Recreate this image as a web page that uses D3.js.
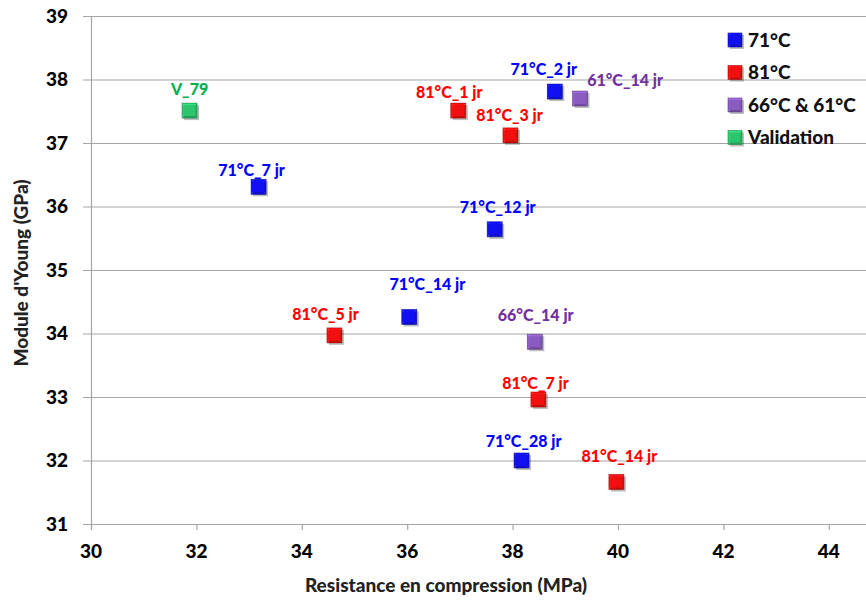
<!DOCTYPE html>
<html>
<head>
<meta charset="utf-8">
<script src="https://cdn.jsdelivr.net/npm/d3@7"></script>
<style>
  body { margin: 0; background: #fff; }
  svg { font-family: Lato, "Open Sans", sans-serif; font-weight: 900; }
</style>
</head>
<body>
<div id="chart"></div>
<script>
// data
const labels = ['V_79', '71°C_7 jr', '81°C_1 jr', '81°C_3 jr', '71°C_2 jr', '61°C_14 jr',
  '71°C_12 jr', '71°C_14 jr', '81°C_5 jr', '66°C_14 jr', '81°C_7 jr', '71°C_28 jr', '81°C_14 jr'];
const groups = ['Validation', '71°C', '81°C', '81°C', '71°C', '66°C & 61°C',
  '71°C', '71°C', '81°C', '66°C & 61°C', '81°C', '71°C', '81°C'];
const resistance = [31.87, 33.18, 36.97, 37.96, 38.8, 39.28, 37.66, 36.04, 34.62, 38.42, 38.49, 38.17, 39.97];
const young = [37.51, 36.31, 37.51, 37.12, 37.81, 37.70, 35.64, 34.26, 33.97, 33.87, 32.96, 32.0, 31.66];
const legendOrder = ['71°C', '81°C', '66°C & 61°C', 'Validation'];
const xTicks = [30, 32, 34, 36, 38, 40, 42, 44];
const yTicks = [31, 32, 33, 34, 35, 36, 37, 38, 39];

// label placement (dx, dy from marker centre)
const labelOffsets = [[0, -16], [-7, -11], [-9, -13], [-1, -14], [-11, -17], [45, -13],
  [3, -16], [18, -27], [-9, -15], [1, -21], [-3, -11], [2, -14], [3, -20]];

const width = 866, height = 603;
const margin = { top: 16, right: 0, bottom: 79, left: 91 };

const markerFill = { '71°C': '#1010f0', '81°C': '#f01010', '66°C & 61°C': '#8a5cc0', 'Validation': '#2cc46c' };
const textFill = { '71°C': '#0000ff', '81°C': '#ff0000', '66°C & 61°C': '#7030a0', 'Validation': '#00b050' };

const x = d3.scaleLinear().domain([30, 45]).range([margin.left, margin.left + 52.7 * 15]);
const y = d3.scaleLinear().domain([31, 39]).range([height - margin.bottom, margin.top]);

const svg = d3.select('#chart').append('svg')
  .attr('width', width)
  .attr('height', height);

// gridlines + y ticks
svg.append('g')
  .selectAll('line')
  .data(yTicks)
  .join('line')
  .attr('x1', margin.left - 8)
  .attr('x2', width)
  .attr('y1', d => y(d) + 0.5)
  .attr('y2', d => y(d) + 0.5)
  .attr('stroke', '#a6a6a6')
  .attr('stroke-width', 1.2);

svg.append('g')
  .selectAll('text')
  .data(yTicks)
  .join('text')
  .attr('x', margin.left - 23)
  .attr('y', d => y(d))
  .attr('dy', '0.36em')
  .attr('text-anchor', 'end')
  .attr('font-size', 19)
  .text(d => d);

// y axis line
svg.append('line')
  .attr('x1', margin.left + 0.5).attr('x2', margin.left + 0.5)
  .attr('y1', y(39)).attr('y2', y(31) + 6)
  .attr('stroke', '#a6a6a6')
  .attr('stroke-width', 1.2);

// x ticks
svg.append('g')
  .selectAll('line')
  .data(xTicks)
  .join('line')
  .attr('x1', d => x(d) + 0.5).attr('x2', d => x(d) + 0.5)
  .attr('y1', y(31)).attr('y2', y(31) + 6)
  .attr('stroke', '#a6a6a6')
  .attr('stroke-width', 1.2);

svg.append('g')
  .selectAll('text')
  .data(xTicks)
  .join('text')
  .attr('x', d => x(d))
  .attr('y', y(31) + 34)
  .attr('text-anchor', 'middle')
  .attr('font-size', 19)
  .text(d => d);

// axis titles
svg.append('text')
  .attr('x', 446)
  .attr('y', 592)
  .attr('text-anchor', 'middle')
  .attr('font-size', 19)
  .attr('fill', '#222')
  .text('Resistance en compression (MPa)');

svg.append('text')
  .attr('transform', `translate(28, ${(y(31) + y(39)) / 2 + 3}) rotate(-90)`)
  .attr('text-anchor', 'middle')
  .attr('font-size', 19)
  .attr('fill', '#222')
  .text("Module d'Young (GPa)");

// bevelled square marker
function drawMarker(g, cx, cy, fill, s) {
  const h = s / 2;
  g.append('rect')
    .attr('x', cx - h + 2).attr('y', cy - h + 2)
    .attr('width', s).attr('height', s)
    .attr('fill', '#000').attr('opacity', 0.25);
  const c = d3.color(fill);
  const faces = [
    { pts: [[-h, -h], [h, -h], [0, 0]], col: c.brighter(0.4) },
    { pts: [[h, -h], [h, h], [0, 0]], col: c.darker(0.3) },
    { pts: [[h, h], [-h, h], [0, 0]], col: c.darker(0.6) },
    { pts: [[-h, h], [-h, -h], [0, 0]], col: c.brighter(0.1) }
  ];
  faces.forEach(f => {
    g.append('path')
      .attr('d', 'M' + f.pts.map(p => [cx + p[0], cy + p[1]].join(',')).join('L') + 'Z')
      .attr('fill', f.col);
  });
  g.append('rect')
    .attr('x', cx - h + 2).attr('y', cy - h + 2)
    .attr('width', s - 4).attr('height', s - 4)
    .attr('fill', fill);
  g.append('rect')
    .attr('x', cx - h).attr('y', cy - h)
    .attr('width', s).attr('height', s)
    .attr('fill', 'none')
    .attr('stroke', c.darker(1))
    .attr('stroke-width', 0.6);
}

const points = svg.append('g');
labels.forEach((lab, i) => {
  drawMarker(points, x(resistance[i]), y(young[i]), markerFill[groups[i]], 15);
});

// data labels
svg.append('g')
  .selectAll('text')
  .data(labels)
  .join('text')
  .attr('x', (d, i) => x(resistance[i]) + labelOffsets[i][0])
  .attr('y', (d, i) => y(young[i]) + labelOffsets[i][1])
  .attr('text-anchor', 'middle')
  .attr('font-size', 16)
  .attr('fill', (d, i) => textFill[groups[i]])
  .text(d => d);

// legend
const legend = svg.append('g');
legendOrder.forEach((g, i) => {
  const ly = 40 + i * 32.5;
  drawMarker(legend, 735, ly, markerFill[g], 14);
  legend.append('text')
    .attr('x', 748)
    .attr('y', ly)
    .attr('dy', '0.36em')
    .attr('font-size', 19)
    .attr('fill', '#111')
    .text(g);
});
</script>
</body>
</html>
